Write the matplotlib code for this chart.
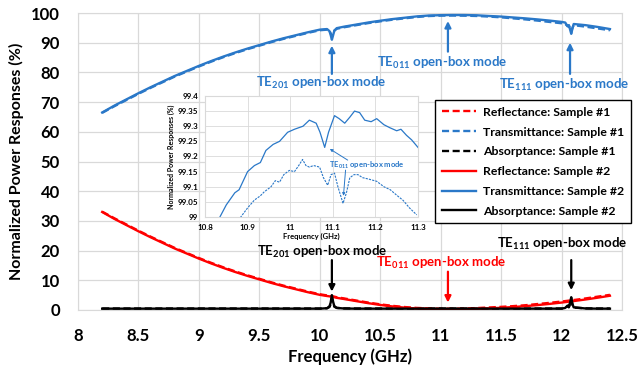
import matplotlib
matplotlib.use('Agg')
import matplotlib.pyplot as plt
from matplotlib.ticker import FormatStrFormatter

plt.rcParams['font.family'] = ['Lato', 'DejaVu Sans']
plt.rcParams['font.weight'] = 'bold'
plt.rcParams['mathtext.fontset'] = 'custom'
plt.rcParams['mathtext.default'] = 'bf'
plt.rcParams['mathtext.bf'] = 'Lato:bold'
plt.rcParams['mathtext.rm'] = 'Lato:bold'

# main chart data (GHz, %)
freq = [8.2, 8.3, 8.4, 8.5, 8.6, 8.7, 8.8, 8.9, 9.0, 9.1, 9.2, 9.3, 9.4, 9.5, 9.6, 9.7, 9.8, 9.9, 10.0,
        10.06, 10.08, 10.09, 10.1, 10.11, 10.12, 10.14,
        10.2, 10.3, 10.4, 10.5, 10.6, 10.7, 10.8, 10.9, 11.0, 11.1, 11.2, 11.3, 11.4, 11.5, 11.6, 11.7, 11.8, 11.9, 12.0,
        12.03, 12.05, 12.06, 12.07, 12.08, 12.09, 12.1,
        12.2, 12.3, 12.4]

refl_2 = [33.0, 30.7, 28.6, 26.5, 24.5, 22.6, 20.7, 19.0, 17.3, 15.7, 14.2, 12.8, 11.5, 10.3, 9.1, 8.0, 7.0, 6.0, 5.1,
          4.7, 4.6, 4.5, 4.4, 4.4, 4.3, 4.1,
          3.7, 3.0, 2.3, 1.7, 1.2, 0.8, 0.5, 0.35, 0.25, 0.25, 0.3, 0.4, 0.55, 0.75, 1.0, 1.3, 1.65, 2.05, 2.5,
          2.65, 2.75, 2.8, 2.85, 2.9, 2.95, 3.0,
          3.55, 4.15, 4.8]
refl_1 = [33.1, 30.9, 28.8, 26.7, 24.7, 22.8, 20.9, 19.2, 17.5, 15.9, 14.4, 13.0, 11.7, 10.5, 9.3, 8.2, 7.2, 6.2, 5.3,
          4.9, 4.8, 4.7, 4.6, 4.6, 4.5, 4.3,
          3.9, 3.2, 2.5, 1.9, 1.4, 1.0, 0.7, 0.55, 0.45, 0.45, 0.5, 0.65, 0.85, 1.05, 1.3, 1.6, 2.0, 2.4, 2.85,
          3.0, 3.1, 3.15, 3.2, 3.25, 3.3, 3.35,
          3.9, 4.5, 5.1]

trans_2 = [66.5, 68.8, 70.9, 73.0, 75.0, 76.9, 78.8, 80.5, 82.2, 83.8, 85.3, 86.7, 88.0, 89.2, 90.4, 91.5, 92.5, 93.5, 94.4,
           94.6, 93.9, 92.6, 91.0, 92.5, 94.0, 94.9,
           95.4, 96.1, 96.8, 97.4, 97.95, 98.4, 98.85, 99.15, 99.28, 99.33, 99.32, 99.23, 99.0, 98.8, 98.5, 98.2, 97.85, 97.45, 97.0,
           96.8, 95.5, 95.8, 94.5, 93.0, 94.8, 96.3,
           95.9, 95.3, 94.6]
trans_1 = [66.4, 68.6, 70.7, 72.8, 74.8, 76.7, 78.6, 80.3, 82.0, 83.6, 85.1, 86.5, 87.8, 89.0, 90.2, 91.3, 92.3, 93.3, 94.2,
           94.4, 94.0, 93.2, 92.2, 93.1, 94.1, 94.7,
           95.2, 95.9, 96.6, 97.2, 97.75, 98.2, 98.65, 98.98, 99.12, 99.15, 99.1, 99.0, 98.8, 98.55, 98.2, 97.85, 97.45, 97.0, 96.55,
           96.35, 95.6, 95.9, 94.9, 93.8, 95.0, 95.9,
           95.4, 94.8, 94.2]

absp_2 = [0.45, 0.45, 0.45, 0.45, 0.45, 0.45, 0.45, 0.45, 0.45, 0.45, 0.45, 0.45, 0.45, 0.45, 0.45, 0.45, 0.45, 0.45, 0.45,
          0.6, 1.2, 2.5, 5.0, 2.8, 1.3, 0.7,
          0.5, 0.45, 0.45, 0.45, 0.45, 0.45, 0.45, 0.45, 0.45, 0.45, 0.45, 0.45, 0.45, 0.45, 0.45, 0.45, 0.45, 0.45, 0.45,
          0.7, 1.5, 1.0, 2.5, 4.3, 2.0, 0.9,
          0.5, 0.45, 0.45]
absp_1 = [0.5, 0.5, 0.5, 0.5, 0.5, 0.5, 0.5, 0.5, 0.5, 0.5, 0.5, 0.5, 0.5, 0.5, 0.5, 0.5, 0.5, 0.5, 0.5,
          0.6, 1.0, 2.0, 4.0, 2.3, 1.1, 0.7,
          0.55, 0.5, 0.5, 0.5, 0.5, 0.5, 0.5, 0.5, 0.5, 0.5, 0.5, 0.5, 0.5, 0.5, 0.5, 0.5, 0.5, 0.5, 0.5,
          0.7, 1.3, 0.9, 2.0, 3.5, 1.7, 0.8,
          0.55, 0.5, 0.5]

# inset data (zoom around TE011)
in_freq_2 = [10.8, 10.82, 10.835, 10.85, 10.87, 10.88, 10.9, 10.916, 10.93, 10.943, 10.96, 10.975, 10.994, 11.01,
             11.03, 11.045, 11.061, 11.07, 11.081, 11.09, 11.104, 11.115, 11.128, 11.14, 11.151, 11.163, 11.175,
             11.19, 11.203, 11.22, 11.234, 11.25, 11.26, 11.273, 11.285, 11.3]
in_trans_2 = [98.93, 98.96, 99.0, 99.04, 99.08, 99.09, 99.15, 99.17, 99.18, 99.22, 99.24, 99.25, 99.28, 99.29,
              99.30, 99.32, 99.31, 99.28, 99.23, 99.28, 99.335, 99.325, 99.31, 99.33, 99.35, 99.345, 99.32,
              99.315, 99.325, 99.305, 99.295, 99.285, 99.29, 99.27, 99.255, 99.23]
in_freq_1 = [10.87, 10.884, 10.9, 10.916, 10.93, 10.939, 10.955, 10.965, 10.975, 10.985, 10.998, 11.01, 11.02,
             11.029, 11.037, 11.045, 11.055, 11.069, 11.078, 11.088, 11.096, 11.104, 11.112, 11.124, 11.132,
             11.14, 11.15, 11.159, 11.17, 11.185, 11.203, 11.22, 11.235, 11.25, 11.265, 11.28, 11.297]
in_trans_1 = [98.97, 99.0, 99.03, 99.056, 99.07, 99.083, 99.10, 99.12, 99.115, 99.14, 99.154, 99.15, 99.17,
              99.19, 99.17, 99.165, 99.17, 99.165, 99.13, 99.105, 99.14, 99.145, 99.10, 99.045, 99.08,
              99.13, 99.14, 99.14, 99.13, 99.125, 99.118, 99.10, 99.09, 99.072, 99.055, 99.03, 99.007]

BLUE = '#2A78C8'
RED = '#FF0000'
GRID = '#D9D9D9'

fig = plt.figure(figsize=(6.41, 3.72), dpi=100)
ax = fig.add_axes([0.1217, 0.1667, 0.8487, 0.7983])

ax.plot(freq, refl_1, color=RED, lw=1.7, ls=(0, (3, 1.5)), label='Reflectance: Sample #1', zorder=3)
ax.plot(freq, trans_1, color=BLUE, lw=1.7, ls=(0, (3, 1.5)), label='Transmittance: Sample #1', zorder=3)
ax.plot(freq, absp_1, color='black', lw=1.7, ls=(0, (3, 1.5)), label='Absorptance: Sample #1', zorder=3)
ax.plot(freq, refl_2, color=RED, lw=1.7, label='Reflectance: Sample #2', zorder=3)
ax.plot(freq, trans_2, color=BLUE, lw=1.7, label='Transmittance: Sample #2', zorder=3)
ax.plot(freq, absp_2, color='black', lw=1.7, label='Absorptance: Sample #2', zorder=3)

ax.set_xlim(8, 12.5)
ax.set_ylim(0, 100)
ax.set_xticks([8, 8.5, 9, 9.5, 10, 10.5, 11, 11.5, 12, 12.5])
ax.set_yticks(range(0, 101, 10))
ax.xaxis.set_major_formatter(FormatStrFormatter('%g'))
ax.grid(True, color=GRID, lw=0.9)
ax.set_axisbelow(True)
for s in ax.spines.values():
    s.set_color(GRID)
ax.tick_params(length=0, labelsize=12, pad=13)
ax.set_xlabel('Frequency (GHz)', fontsize=12, fontweight='bold', labelpad=3)
ax.set_ylabel('Normalized Power Responses (%)', fontsize=11.5, fontweight='bold', labelpad=5)


def mode_arrow(a, x, y_tail, y_tip, color, lw=1.6):
    a.annotate('', xy=(x, y_tip), xytext=(x, y_tail),
               arrowprops=dict(arrowstyle='-|>', color=color, lw=lw, mutation_scale=9, shrinkA=0, shrinkB=0))


# blue mode labels (transmittance)
ax.text(10.01, 76.4, r'TE$_{201}$ open-box mode', color=BLUE, fontsize=9.5, ha='center', va='center')
mode_arrow(ax, 10.1, 79.5, 89.0, BLUE)
ax.text(11.01, 83.2, r'TE$_{011}$ open-box mode', color=BLUE, fontsize=9.5, ha='center', va='center')
mode_arrow(ax, 11.06, 87.0, 97.3, BLUE)
ax.text(12.02, 75.8, r'TE$_{111}$ open-box mode', color=BLUE, fontsize=9.5, ha='center', va='center')
mode_arrow(ax, 12.07, 79.5, 90.0, BLUE)

# black / red mode labels (absorptance / reflectance)
ax.text(10.02, 19.6, r'TE$_{201}$ open-box mode', color='black', fontsize=9.5, ha='center', va='center')
mode_arrow(ax, 10.1, 16.8, 6.2, 'black')
ax.text(12.0, 22.4, r'TE$_{111}$ open-box mode', color='black', fontsize=9.5, ha='center', va='center')
mode_arrow(ax, 12.08, 16.8, 6.7, 'black')
ax.text(11.0, 15.7, r'TE$_{011}$ open-box mode', color=RED, fontsize=9.5, ha='center', va='center')
mode_arrow(ax, 11.06, 12.9, 2.5, RED)

leg = ax.legend(loc='upper left', bbox_to_anchor=(435 / 641, 1 - 100 / 372), bbox_transform=fig.transFigure,
                borderaxespad=0, fancybox=False, framealpha=1, edgecolor='black', fontsize=8.8,
                handlelength=2.8, labelspacing=0.72, borderpad=0.55, handletextpad=0.6)
leg.get_frame().set_linewidth(1.0)

# inset
axi = fig.add_axes([0.3198, 0.4167, 0.3323, 0.3253])
axi.plot(in_freq_2, in_trans_2, color=BLUE, lw=0.9)
axi.plot(in_freq_1, in_trans_1, color=BLUE, lw=0.8, ls=(0, (2, 1)))
axi.set_xlim(10.8, 11.3)
axi.set_ylim(99, 99.4)
axi.set_xticks([10.8, 10.9, 11, 11.1, 11.2, 11.3])
axi.set_yticks([99, 99.05, 99.1, 99.15, 99.2, 99.25, 99.3, 99.35, 99.4])
axi.xaxis.set_major_formatter(FormatStrFormatter('%g'))
axi.yaxis.set_major_formatter(FormatStrFormatter('%g'))
axi.grid(True, color=GRID, lw=0.6)
axi.set_axisbelow(True)
for s in axi.spines.values():
    s.set_color(GRID)
axi.tick_params(length=0, labelsize=5.8, pad=5)
axi.set_xlabel('Frequency (GHz)', fontsize=5.5, fontweight='bold', labelpad=1)
axi.set_ylabel('Normalized Power Responses (%)', fontsize=5, fontweight='bold', labelpad=2)

axi.text(11.18, 99.17, r'TE$_{011}$ open-box mode', color=BLUE, fontsize=5.5, ha='center', va='center')
axi.annotate('', xy=(11.093, 99.225), xytext=(11.135, 99.188),
             arrowprops=dict(arrowstyle='-|>', color=BLUE, lw=0.7, mutation_scale=4, shrinkA=0, shrinkB=0))
axi.annotate('', xy=(11.125, 99.07), xytext=(11.13, 99.155),
             arrowprops=dict(arrowstyle='-|>', color=BLUE, lw=0.7, mutation_scale=4, shrinkA=0, shrinkB=0))

fig.savefig('out.png', dpi=100)
